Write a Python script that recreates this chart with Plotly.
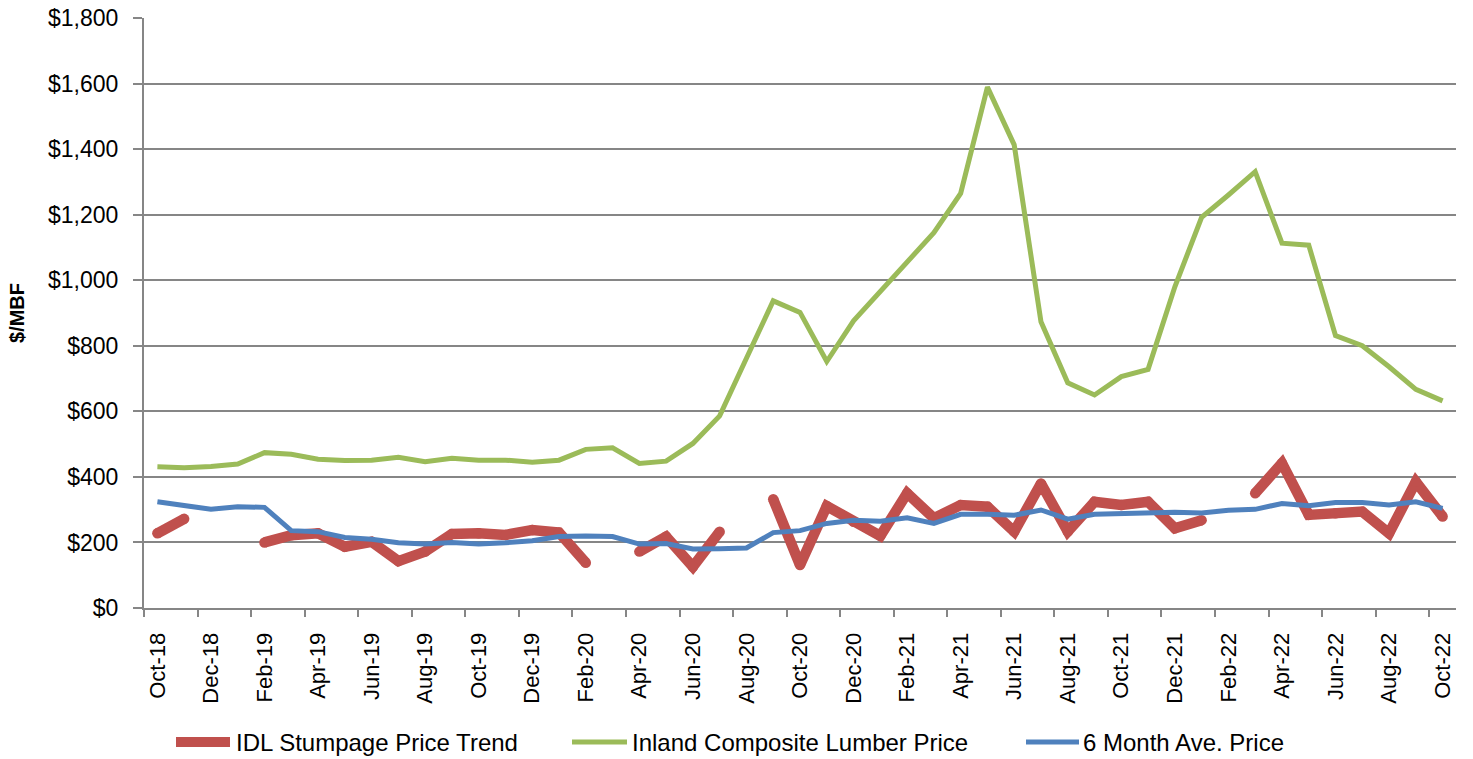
import plotly.graph_objects as go

months = ["Oct-18","Nov-18","Dec-18","Jan-19","Feb-19","Mar-19","Apr-19","May-19","Jun-19","Jul-19",
          "Aug-19","Sep-19","Oct-19","Nov-19","Dec-19","Jan-20","Feb-20","Mar-20","Apr-20","May-20",
          "Jun-20","Jul-20","Aug-20","Sep-20","Oct-20","Nov-20","Dec-20","Jan-21","Feb-21","Mar-21",
          "Apr-21","May-21","Jun-21","Jul-21","Aug-21","Sep-21","Oct-21","Nov-21","Dec-21","Jan-22",
          "Feb-22","Mar-22","Apr-22","May-22","Jun-22","Jul-22","Aug-22","Sep-22","Oct-22"]

stumpage = [228, 272, None, None, 200, 222, 228, 187, 202, 143,
            172, 226, 228, 223, 238, 230, 138, None, 172, 218,
            126, 233, None, 332, 131, 311, 263, 220, 350, 274,
            314, 309, 233, 380, 233, 324, 314, 324, 243, 268,
            None, 350, 442, 284, 289, 294, 228, 385, 279]

lumber = [431, 428, 432, 439, 474, 469, 454, 450, 451, 460,
          446, 457, 451, 451, 445, 451, 484, 489, 441, 448,
          502, 586, 762, 937, 902, 752, 876, 965, 1052, 1145,
          1265, 1589, 1413, 873, 687, 650, 706, 728, 980, 1192,
          1260, 1331, 1113, 1107, 831, 800, 736, 667, 632]

six_month = [324, 311, 301, 309, 307, 236, 233, 215, 210, 199,
             195, 200, 195, 199, 205, 218, 220, 218, 195, 197,
             180, 181, 183, 230, 236, 258, 268, 265, 275, 258,
             286, 286, 283, 299, 271, 286, 288, 292, 292, 290,
             298, 301, 319, 312, 322, 322, 314, 324, 304]

series_names = ["IDL Stumpage Price Trend", "Inland Composite Lumber Price", "6 Month Ave. Price"]

x = list(range(len(months)))
tick_idx = x[::2]
tick_text = months[::2]

RED = "#C0504D"
GREEN = "#9BBB59"
BLUE = "#4F81BD"
GRID = "#868686"
FONT = "Liberation Sans"

W, H = 1473, 759
ML, MR, MT, MB = 144, 17, 18, 151
PW, PH = W - ML - MR, H - MT - MB


def px2paper(px, py):
    return (px - ML) / PW, (H - MB - py) / PH


fig = go.Figure()
fig.add_trace(go.Scatter(x=x, y=stumpage, name=series_names[0], mode="lines+markers",
                         line=dict(color=RED, width=10.5), marker=dict(color=RED, size=10.5),
                         connectgaps=False, showlegend=False))
fig.add_trace(go.Scatter(x=x, y=lumber, name=series_names[1], mode="lines",
                         line=dict(color=GREEN, width=5), showlegend=False))
fig.add_trace(go.Scatter(x=x, y=six_month, name=series_names[2], mode="lines",
                         line=dict(color=BLUE, width=5), showlegend=False))

# manual legend (sample line + label)
legend_items = [
    (series_names[0], RED, 10, 176, 230, 234),
    (series_names[1], GREEN, 5, 572, 627, 630),
    (series_names[2], BLUE, 5, 1026, 1079, 1081),
]
shapes = []
annotations = []
ly = 742
for name, col, wd, x0, x1, tx in legend_items:
    a0, b0 = px2paper(x0, ly)
    a1, _ = px2paper(x1, ly)
    shapes.append(dict(type="line", xref="paper", yref="paper", x0=a0, x1=a1, y0=b0, y1=b0,
                       line=dict(color=col, width=wd)))
    ta, tb = px2paper(tx, ly)
    annotations.append(dict(xref="paper", yref="paper", x=ta, y=tb, xanchor="left", yanchor="middle",
                            text=name, showarrow=False, font=dict(size=24, family=FONT, color="#000000")))

fig.update_layout(
    width=W, height=H,
    margin=dict(l=ML, r=MR, t=MT, b=MB),
    paper_bgcolor="white", plot_bgcolor="white",
    font=dict(family=FONT, color="#000000"),
    showlegend=False,
    shapes=shapes, annotations=annotations,
)
fig.update_yaxes(
    range=[0, 1800], dtick=200, tickprefix="$", tickformat=",",
    showgrid=True, gridcolor=GRID, gridwidth=2,
    showline=True, linecolor=GRID, linewidth=2,
    ticks="outside", ticklen=9, tickcolor=GRID, tickwidth=2,
    tickfont=dict(size=23, family=FONT), zeroline=False, automargin=False,
    ticklabelstandoff=10,
    title=dict(text="<b>$/MBF</b>", font=dict(size=20, family=FONT), standoff=18),
)
fig.update_xaxes(
    range=[-0.5, len(months) - 0.5],
    tickmode="array", tickvals=tick_idx, ticktext=tick_text, tickangle=-90,
    ticks="", showgrid=False, zeroline=False, automargin=False,
    showline=True, linecolor=GRID, linewidth=2,
    tickfont=dict(size=22, family=FONT), ticklabelstandoff=14,
    minor=dict(tick0=-0.5, dtick=2, ticks="outside", ticklen=7, tickcolor=GRID, tickwidth=2, showgrid=False),
)

fig.write_html("out.html", config={"displayModeBar": False},
               post_script="document.body.style.margin='0';document.body.style.padding='0';")
